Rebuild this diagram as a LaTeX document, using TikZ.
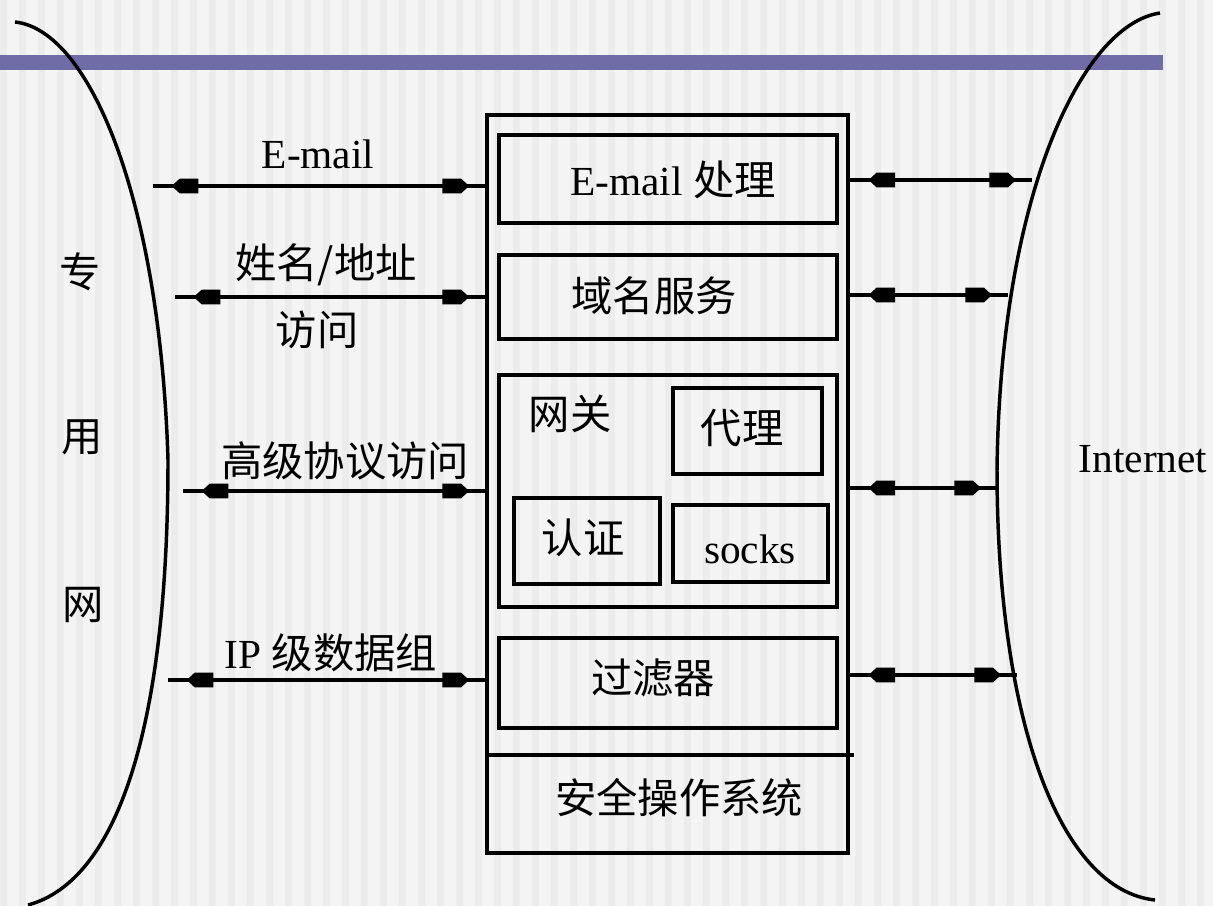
\documentclass[tikz,border=0pt]{standalone}
\usepackage{fontspec}
\setmainfont{Liberation Serif}
\newfontfamily\cjk{Noto Sans CJK SC}
\usetikzlibrary{decorations.markings}
\definecolor{bgbase}{RGB}{244,244,244}
\definecolor{bgstripe}{RGB}{236,236,236}
\definecolor{barblue}{RGB}{112,108,168}
\tikzset{
  box/.style={draw, line width=2.8pt, inner sep=0pt},
  lat/.style={inner sep=0pt, font=\fontsize{31}{36}\selectfont},
  zh/.style={inner sep=0pt, font=\fontsize{31}{36}\selectfont\cjk},
  curve/.style={line width=2.6pt},
  biarrow/.style={line width=2.6pt, postaction={decorate},
    decoration={markings,
      mark=at position 14pt with {\fill (0pt,0pt) -- (6pt,5.5pt) -- (20pt,5.5pt) -- (20pt,-5.5pt) -- (6pt,-5.5pt) -- cycle;},
      mark=at position -12pt with {\fill (0pt,0pt) -- (-6pt,5.5pt) -- (-20pt,5.5pt) -- (-20pt,-5.5pt) -- (-6pt,-5.5pt) -- cycle;}}}
}
\begin{document}
\begin{tikzpicture}[x=0.75pt, y=-0.75pt]
\useasboundingbox (0,0) rectangle (1213,906);
% background
\fill[bgbase] (0,0) rectangle (1213,906);
\foreach \s in {0,19,...,1210} { \fill[bgstripe] (\s,0) rectangle ++(7,906); }
% top bar
\fill[barblue] (0,55) rectangle (1163,70);
% side curves
\draw[curve] (15,22) .. controls (90,30) and (160,200) .. (168,460)
             .. controls (168,720) and (120,880) .. (28,905);
\draw[curve] (1160,13) .. controls (1080,25) and (1000,200) .. (997,470)
             .. controls (997,720) and (1060,890) .. (1155,900);
% main box
\node[box, minimum width=270.75pt, minimum height=553.5pt] (outer) at (667.5,484) {};
\coordinate (sepy) at (0,755);
\draw[line width=2.8pt] (outer.west |- sepy) -- ([xshift=3pt]outer.east |- sepy);
\node[box, minimum width=253.5pt, minimum height=66pt] (mailbox) at (668,179) {};
\node[box, minimum width=253.5pt, minimum height=63pt] (dnsbox) at (668,297) {};
\node[box, minimum width=253.5pt, minimum height=174pt] (gwbox) at (668,491) {};
\node[box, minimum width=111.75pt, minimum height=64.5pt] (proxybox) at (747.5,431) {};
\node[box, minimum width=109.5pt, minimum height=64.5pt] (authbox) at (587,541) {};
\node[box, minimum width=116.25pt, minimum height=57.75pt] (socksbox) at (750.5,543.5) {};
\node[box, minimum width=253.5pt, minimum height=67.5pt] (filterbox) at (668,683) {};
% box texts
\node[lat, anchor=base] (mailtxt) at (673,195) {E-mail {\cjk 处理}};
\node[zh] (dnstxt) at (654,296) {域名服务};
\node[zh] (gwtxt) at (570,414) {网关};
\node[zh] (proxytxt) at (742,428) {代理};
\node[zh] (authtxt) at (583,538) {认证};
\node[lat, anchor=base] (sockstxt) at (750,563) {socks};
\node[zh] (filtertxt) at (653,678) {过滤器};
\node[zh] (ostxt) at (679,798) {安全操作系统};
% left labels
\node[lat, anchor=base] (lbl1) at (318,168) {E-mail};
\node[zh] (lbl2) at (326,265) {姓名/地址};
\node[zh] (lbl2b) at (317,330) {访问};
\node[zh] (lbl3) at (345,461) {高级协议访问};
\node[lat, anchor=base] (lbl4) at (331,668) {IP {\cjk 级数据组}};
\node[zh] (zhuan) at (80,272) {专};
\node[zh] (yong) at (82,437) {用};
\node[zh] (wang) at (83,605) {网};
\node[lat, anchor=base] (inet) at (1143,472) {Internet};
% left connectors
\coordinate (l1) at (153,186);
\coordinate (l2) at (175,297);
\coordinate (l3) at (183,491);
\coordinate (l4) at (168,680);
\draw[biarrow] (l1) -- (outer.west |- l1);
\draw[biarrow] (l2) -- (outer.west |- l2);
\draw[biarrow] (l3) -- (outer.west |- l3);
\draw[biarrow] (l4) -- (outer.west |- l4);
% right connectors
\coordinate (r1) at (1032,180);
\coordinate (r2) at (1008,295);
\coordinate (r3) at (997,488);
\coordinate (r4) at (1017,675);
\draw[biarrow] (outer.east |- r1) -- (r1);
\draw[biarrow] (outer.east |- r2) -- (r2);
\draw[biarrow] (outer.east |- r3) -- (r3);
\draw[biarrow] (outer.east |- r4) -- (r4);
\end{tikzpicture}
\end{document}
